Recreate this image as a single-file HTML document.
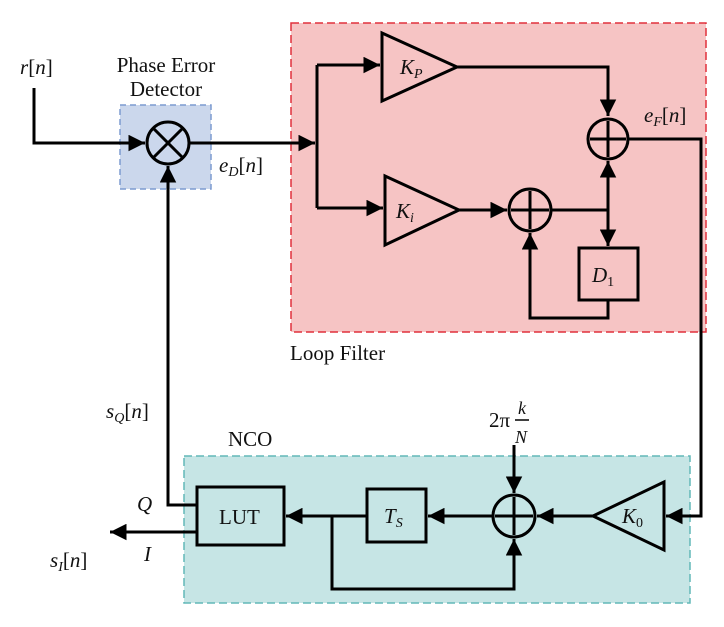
<!DOCTYPE html>
<html><head><style>body{margin:0;background:#fff}svg{display:block}text{font-family:"Liberation Serif",serif;fill:#111}</style></head><body>
<svg width="724" height="627" viewBox="0 0 724 627" xmlns="http://www.w3.org/2000/svg">
<defs><marker id="a" viewBox="0 0 10 10" refX="10" refY="5" markerWidth="5.5" markerHeight="5.5" orient="auto"><path d="M0,0L10,5L0,10z" fill="#000"/></marker></defs>
<rect x="291" y="23" width="415" height="309" fill="#f6c4c4" stroke="#e0303c" stroke-width="1.5" stroke-dasharray="8,4"/>
<rect x="120" y="105" width="91" height="84" fill="#cbd7ec" stroke="#7d9bd0" stroke-width="1.5" stroke-dasharray="6,4"/>
<rect x="184" y="456" width="506" height="147" fill="#c6e5e5" stroke="#62b8b8" stroke-width="1.5" stroke-dasharray="8,4"/>
<g stroke="#000" stroke-width="3" fill="none">
<path d="M34,88V143H145" marker-end="url(#a)"/>
<path d="M189,143H315" marker-end="url(#a)"/>
<path d="M317,65V208"/>
<path d="M317,65H380" marker-end="url(#a)"/>
<path d="M317,208H383" marker-end="url(#a)"/>
<path d="M382,33L457,67L382,101Z"/>
<path d="M385,176L459,210L385,245Z"/>
<path d="M457,67H608V116" marker-end="url(#a)"/>
<path d="M459,210H507" marker-end="url(#a)"/>
<path d="M551,210H608"/>
<path d="M608,210V161" marker-end="url(#a)"/>
<path d="M608,210V246" marker-end="url(#a)"/>
<rect x="579" y="248" width="59" height="52"/>
<path d="M608,300V318H530V233" marker-end="url(#a)"/>
<path d="M629,139H701V516H666" marker-end="url(#a)"/>
<circle cx="168" cy="143" r="21"/><path d="M153,128L183,158M183,128L153,158"/>
<circle cx="608" cy="139" r="20"/><path d="M608,121V157M590,139H626"/>
<circle cx="530" cy="210" r="21"/><path d="M530,191V229M511,210H549"/>
<circle cx="514" cy="516" r="21"/><path d="M514,497V535M495,516H533"/>
<path d="M664,482L593,516L664,550Z"/>
<path d="M593,516H537" marker-end="url(#a)"/>
<path d="M493,516H428" marker-end="url(#a)"/>
<rect x="367" y="489" width="59" height="53"/>
<path d="M367,516H286" marker-end="url(#a)"/>
<path d="M332,516V589H514V539" marker-end="url(#a)"/>
<path d="M514,445V493" marker-end="url(#a)"/>
<rect x="197" y="487" width="87" height="58"/>
<path d="M197,505H168V166" marker-end="url(#a)"/>
<path d="M197,532H110" marker-end="url(#a)"/>
</g>
<g font-size="21">
<text x="20" y="74" font-style="italic">r<tspan font-style="normal">[</tspan>n<tspan font-style="normal">]</tspan></text>
<text x="166" y="72" text-anchor="middle">Phase Error</text>
<text x="166" y="96" text-anchor="middle">Detector</text>
<text x="219" y="172" font-style="italic">e<tspan font-size="14" dy="4">D</tspan><tspan dy="-4" font-style="normal">[</tspan>n<tspan font-style="normal">]</tspan></text>
<text x="644" y="122" font-style="italic">e<tspan font-size="14" dy="4">F</tspan><tspan dy="-4" font-style="normal">[</tspan>n<tspan font-style="normal">]</tspan></text>
<text x="400" y="74" font-style="italic">K<tspan font-size="14" dy="4">P</tspan></text>
<text x="396" y="218" font-style="italic">K<tspan font-size="14" dy="4">i</tspan></text>
<text x="592" y="282" font-style="italic">D<tspan font-size="14" dy="4" font-style="normal">1</tspan></text>
<text x="290" y="360">Loop Filter</text>
<text x="106" y="418" font-style="italic">s<tspan font-size="14" dy="4">Q</tspan><tspan dy="-4" font-style="normal">[</tspan>n<tspan font-style="normal">]</tspan></text>
<text x="228" y="446">NCO</text>
<text x="137" y="511" font-style="italic">Q</text>
<text x="144" y="561" font-style="italic">I</text>
<text x="50" y="567" font-style="italic">s<tspan font-size="14" dy="4">I</tspan><tspan dy="-4" font-style="normal">[</tspan>n<tspan font-style="normal">]</tspan></text>
<text x="219" y="524">LUT</text>
<text x="384" y="523" font-style="italic">T<tspan font-size="14" dy="4">S</tspan></text>
<text x="622" y="523" font-style="italic">K<tspan font-size="14" dy="4" font-style="normal">0</tspan></text>
<text x="489" y="427">2π</text>
<text x="518" y="414" font-style="italic" font-size="18">k</text>
<text x="515" y="443" font-style="italic" font-size="18">N</text>
</g>
<path d="M515,420H529" stroke="#000" stroke-width="1.5"/>
</svg>
</body></html>
